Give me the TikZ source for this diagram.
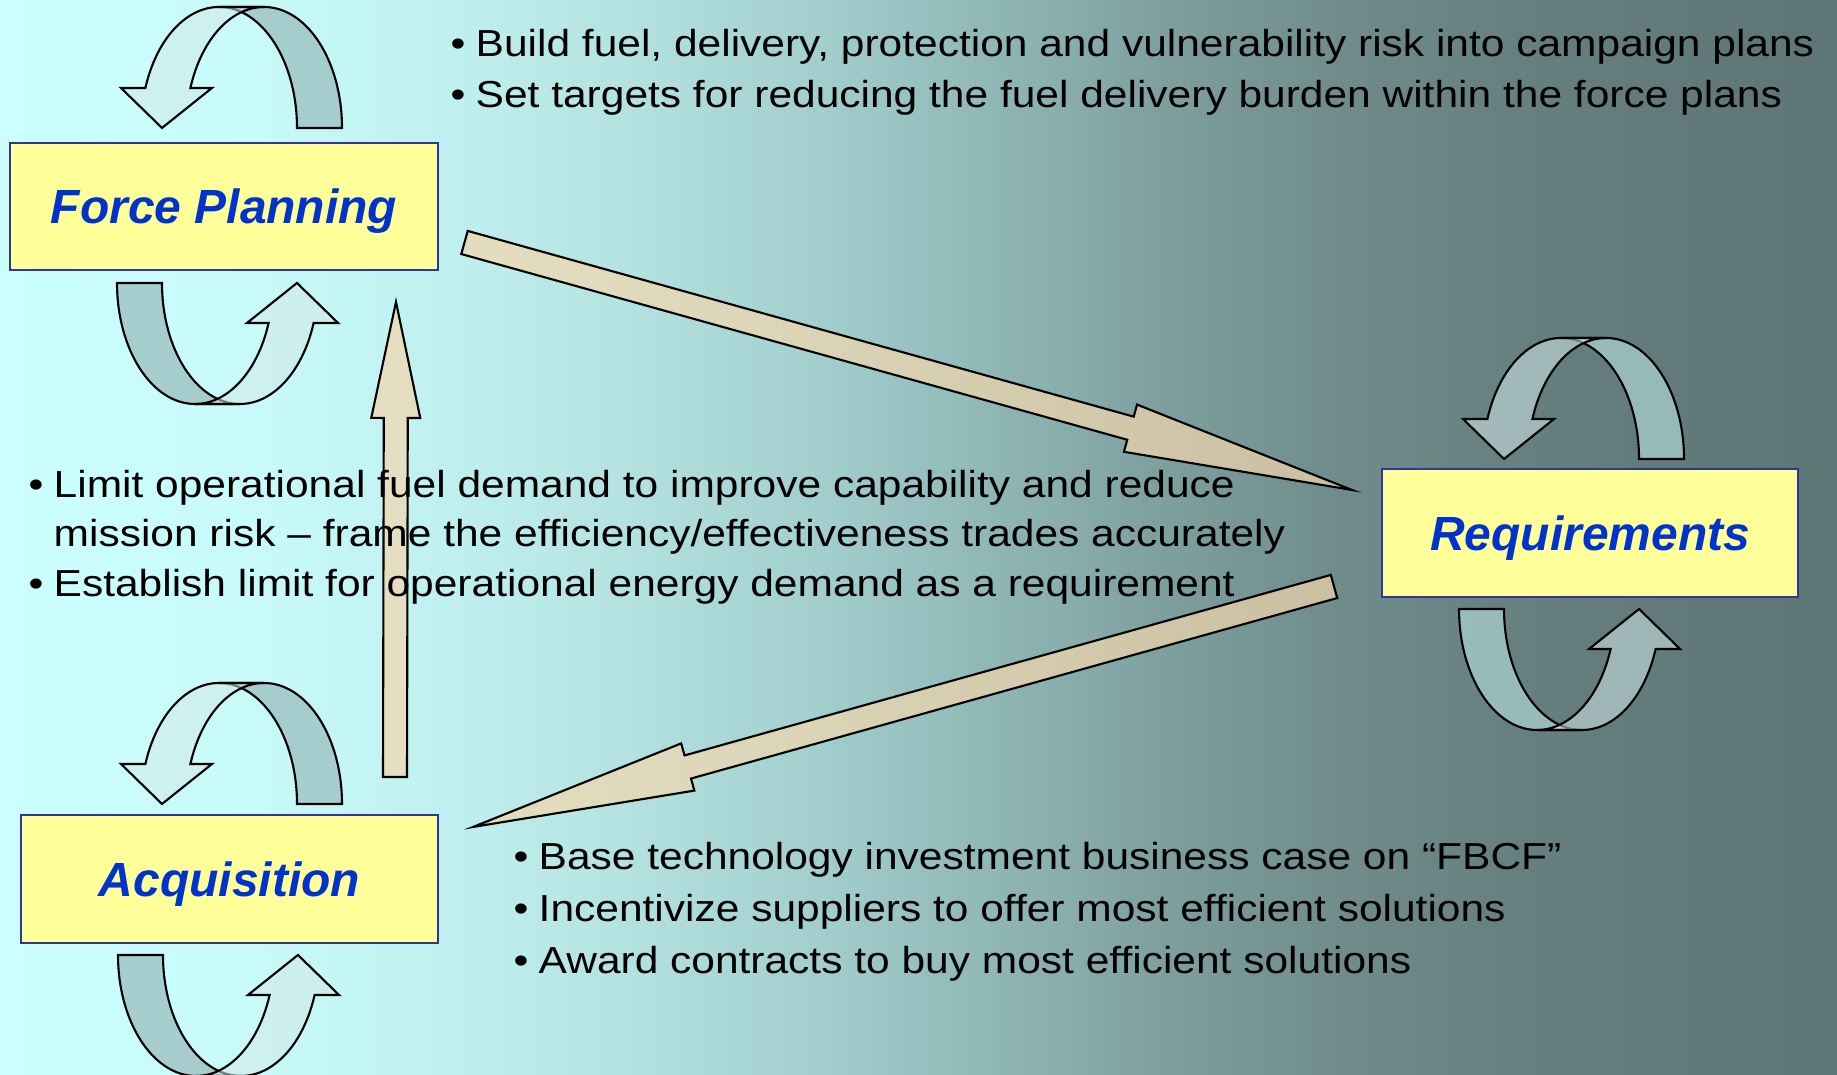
\documentclass[tikz,border=0pt]{standalone}
\usepackage{fontspec}
\setmainfont{Liberation Sans}
\newfontfamily\widefont{Liberation Sans}[FakeStretch=1.13]
\usepackage{tikz}
\usetikzlibrary{calc, positioning}
\usepackage{xcolor}
\definecolor{boxfill}{HTML}{FFFF99}
\definecolor{boxedge}{HTML}{333399}
\definecolor{boxtext}{HTML}{0033CC}
\definecolor{arrowfill}{HTML}{F4D6AC}
\definecolor{ribbonlight}{HTML}{D2E8E8}
\definecolor{ribbondark}{HTML}{A0C6C6}
\definecolor{bgA}{HTML}{CCFFFF}
\definecolor{bgB}{HTML}{C8FAFA}
\definecolor{bgC}{HTML}{C0F1F0}
\definecolor{bgD}{HTML}{B4E2E1}
\definecolor{bgE}{HTML}{A3D0CF}
\definecolor{bgF}{HTML}{8FB7B6}
\definecolor{bgG}{HTML}{7C9E9D}
\definecolor{bgH}{HTML}{6E8A89}
\definecolor{bgI}{HTML}{657E7E}
\definecolor{bgJ}{HTML}{5E7575}

\pgfdeclarehorizontalshading{bgfade}{100bp}{color(0bp)=(bgA); color(25bp)=(bgA); color(32bp)=(bgB);
  color(37bp)=(bgC); color(42bp)=(bgD); color(47bp)=(bgE); color(52bp)=(bgF); color(57bp)=(bgG);
  color(62bp)=(bgH); color(67bp)=(bgI); color(75bp)=(bgJ); color(100bp)=(bgJ)}

\newcommand{\dotitem}{\makebox[0.25cm][l]{\textbullet}}

% fat arrow: tail, tip, head length
\newcommand{\fatarrow}[3]{%
  \coordinate (hb) at ($(#2)!#3!(#1)$);
  \draw[bigarrow] ($(#1)!0.12cm!90:(#2)$) -- ($(hb)!0.12cm!90:(#2)$) -- ($(hb)!0.245cm!90:(#2)$)
    -- (#2) -- ($(hb)!0.245cm!-90:(#2)$) -- ($(hb)!0.12cm!-90:(#2)$) -- ($(#1)!0.12cm!-90:(#2)$) -- cycle;
}

\tikzset{
  stage/.style={draw=boxedge, fill=boxfill, line width=0.6pt, inner sep=0pt, text=boxtext, text depth=0pt,
    font=\fontsize{13.65}{16}\selectfont\bfseries\itshape},
  bullet/.style={anchor=base west, inner sep=0pt, font=\widefont\fontsize{10.7}{13}\selectfont},
  bigarrow/.style={draw=black, line width=0.6pt, fill=arrowfill, fill opacity=0.7, line join=miter},
  ribbonback/.style={draw=black, line width=0.6pt, fill=ribbondark, fill opacity=0.85},
  ribbonfront/.style={draw=black, line width=0.6pt, fill=ribbonlight, fill opacity=0.55},
  turn/.pic={
    \draw[ribbonback] (1.23,0) arc[start angle=0, end angle=90, x radius=0.78, y radius=1.21]
      -- (0,1.21) arc[start angle=90, end angle=0, x radius=0.78, y radius=1.21] -- cycle;
    \draw[ribbonfront] (0,1.21) arc[start angle=90, end angle=160.7, x radius=0.78, y radius=1.21]
      -- (-0.98,0.40) -- (-0.57,0) -- (-0.07,0.40) -- (-0.286,0.40)
      arc[start angle=160.7, end angle=90, x radius=0.78, y radius=1.21] -- cycle;
  }
}

\begin{document}
\begin{tikzpicture}
\useasboundingbox (0,0) rectangle (18.37,10.75);
\shade[shading=bgfade] (0,0) rectangle (18.37,10.75);

% loops round each stage
\pic at (2.19,9.47) {turn};
\pic[rotate=180] at (2.40,7.92) {turn};
\pic at (2.19,2.71) {turn};
\pic[rotate=180] at (2.41,1.20) {turn};
\pic at (15.61,6.16) {turn};
\pic[rotate=180] at (15.82,4.66) {turn};

% arrows between the stages
\coordinate (planout) at (4.645,8.325);
\coordinate (reqin) at (13.52,5.85);
\coordinate (reqout) at (13.34,4.885);
\coordinate (acqin) at (4.73,2.48);
\coordinate (acqout) at (3.95,2.98);
\coordinate (planin) at (3.96,7.73);
\fatarrow{planout}{reqin}{2.30cm}
\fatarrow{reqout}{acqin}{2.23cm}
\fatarrow{acqout}{planin}{1.16cm}

\node[bullet] (plan1) at (4.50,10.18) {\dotitem Build fuel, delivery, protection and vulnerability risk into campaign plans};
\node[bullet] (plan2) at (4.50,9.67) {\dotitem Set targets for reducing the fuel delivery burden within the force plans};

\node[bullet] (req1) at (0.28,5.77) {\dotitem Limit operational fuel demand to improve capability and reduce};
\node[bullet] (req2) at (0.53,5.28) {mission risk – frame the efficiency/effectiveness trades accurately};
\node[bullet] (req3) at (0.28,4.78) {\dotitem Establish limit for operational energy demand as a requirement};

\node[bullet] (acq1) at (5.13,2.05) {\dotitem Base technology investment business case on “FBCF”};
\node[bullet] (acq2) at (5.13,1.53) {\dotitem Incentivize suppliers to offer most efficient solutions};
\node[bullet] (acq3) at (5.13,1.01) {\dotitem Award contracts to buy most efficient solutions};

\node[stage, minimum width=4.28cm, minimum height=1.27cm] (force) at (2.24,8.685) {Force Planning};
\node[stage, minimum width=4.16cm, minimum height=1.28cm] (requirements) at (15.90,5.42) {Requirements};
\node[stage, minimum width=4.17cm, minimum height=1.28cm] (acquisition) at (2.295,1.96) {Acquisition};
\end{tikzpicture}
\end{document}
